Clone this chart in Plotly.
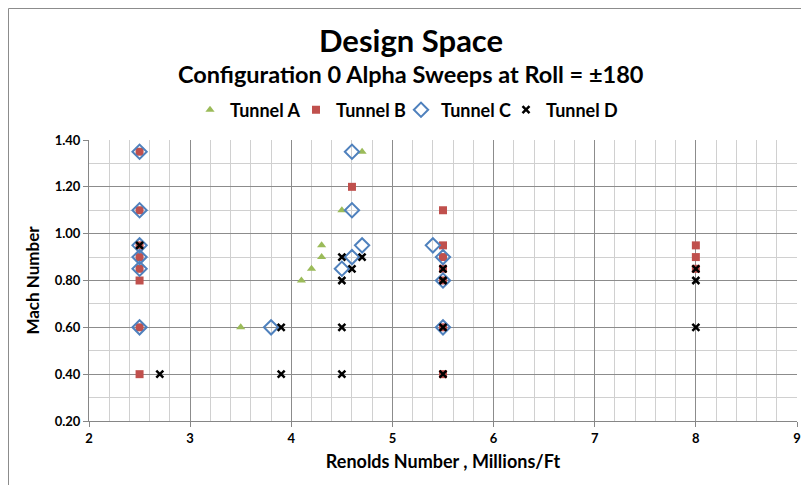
import plotly.graph_objects as go

# Tunnel A
a_x = [3.5, 4.1, 4.2, 4.3, 4.3, 4.5, 4.7]
a_y = [0.60, 0.80, 0.85, 0.90, 0.95, 1.10, 1.35]
# Tunnel B
b_x = [2.5, 2.5, 2.5, 2.5, 2.5, 2.5, 2.5, 2.5, 4.6, 5.5, 5.5, 5.5, 5.5, 5.5, 5.5, 5.5, 8.0, 8.0, 8.0]
b_y = [1.35, 1.10, 0.95, 0.90, 0.85, 0.80, 0.60, 0.40, 1.20, 1.10, 0.95, 0.90, 0.85, 0.80, 0.60, 0.40, 0.95, 0.90, 0.85]
# Tunnel C
c_x = [2.5, 2.5, 2.5, 2.5, 2.5, 2.5, 3.8, 4.5, 4.6, 4.7, 4.6, 4.6, 5.4, 5.5, 5.5, 5.5]
c_y = [1.35, 1.10, 0.95, 0.90, 0.85, 0.60, 0.60, 0.85, 0.90, 0.95, 1.10, 1.35, 0.95, 0.90, 0.80, 0.60]
# Tunnel D
d_x = [2.5, 2.7, 3.9, 3.9, 4.5, 4.5, 4.5, 4.5, 4.6, 4.7, 5.5, 5.5, 5.5, 5.5, 8.0, 8.0, 8.0]
d_y = [0.95, 0.40, 0.60, 0.40, 0.90, 0.80, 0.60, 0.40, 0.85, 0.90, 0.85, 0.80, 0.60, 0.40, 0.85, 0.80, 0.60]

title_text = "Design Space"
subtitle_text = "Configuration 0 Alpha Sweeps at Roll = ±180"
x_title = "Renolds Number , Millions/Ft"
y_title = "Mach Number"

FONT = "Lato"

fig = go.Figure()
fig.add_trace(go.Scatter(x=a_x, y=a_y, mode="markers", name="Tunnel A", legend="legend",
                         marker=dict(symbol="triangle-up", size=8, color="#9BBB59")))
fig.add_trace(go.Scatter(x=b_x, y=b_y, mode="markers", name="Tunnel B", legend="legend2",
                         marker=dict(symbol="square", size=8, color="#C0504D")))
fig.add_trace(go.Scatter(x=c_x, y=c_y, mode="markers", name="Tunnel C", legend="legend3",
                         marker=dict(symbol="diamond-open", size=11, color="#4F81BD",
                                     line=dict(width=2, color="#4F81BD"))))
fig.add_trace(go.Scatter(x=d_x, y=d_y, mode="markers", name="Tunnel D", legend="legend4",
                         marker=dict(symbol="x-thin", size=7, color="black",
                                     line=dict(width=2.5, color="black"))))

# page body has an 8px margin, so the figure starts at (8, 8) in the window
OFF = 8
W, H = 809 - OFF, 485 - OFF
L, R, T, B = 89 - OFF, 809 - 797, 140 - OFF, 485 - 421
pw, ph = W - L - R, H - T - B

def px_x(p):  # window pixel -> paper x
    return (p - OFF - L) / pw

def px_y(p):  # window pixel -> paper y
    return (H - B - (p - OFF)) / ph

axis_common = dict(showline=True, linecolor="#868686", linewidth=1,
                   gridcolor="#8c8c8c", gridwidth=1, ticks="outside",
                   ticklen=5, tickcolor="#868686", zeroline=False,
                   tickfont=dict(family=FONT, size=13, color="black", weight="bold"))

def legend_at(px):
    return dict(orientation="h", x=px_x(px), xanchor="left", y=px_y(110), yanchor="middle",
                font=dict(family=FONT, size=18, color="black", weight="bold"),
                itemwidth=30, bgcolor="rgba(0,0,0,0)")

fig.update_layout(
    width=W, height=H,
    margin=dict(l=L, r=R, t=T, b=B, autoexpand=False),
    paper_bgcolor="white", plot_bgcolor="white",
    font=dict(family=FONT, color="black"),
    xaxis=dict(range=[2, 9], dtick=1, tick0=2,
               minor=dict(dtick=0.2, showgrid=True, gridcolor="#d0d0d0", ticks=""),
               title=dict(text=x_title, font=dict(family=FONT, size=18, weight="bold"), standoff=10),
               **axis_common),
    yaxis=dict(range=[0.2, 1.4], dtick=0.2, tick0=0.2, tickformat=".2f",
               minor=dict(dtick=0.1, showgrid=True, gridcolor="#d0d0d0", ticks=""),
               title=dict(text=y_title, font=dict(family=FONT, size=17, weight="bold"), standoff=10),
               **axis_common),
    showlegend=True,
    legend=legend_at(190),
    legend2=legend_at(296),
    legend3=legend_at(401),
    legend4=legend_at(506),
    annotations=[
        dict(text=title_text, xref="paper", yref="paper", x=px_x(411), y=px_y(40),
             xanchor="center", yanchor="middle", showarrow=False,
             font=dict(family=FONT, size=31, color="black", weight="bold")),
        dict(text=subtitle_text, xref="paper", yref="paper", x=px_x(411), y=px_y(74),
             xanchor="center", yanchor="middle", showarrow=False,
             font=dict(family=FONT, size=23.5, color="black", weight="bold")),
    ],
    shapes=[
        dict(type="line", xref="paper", yref="paper", x0=px_x(8.5), x1=px_x(830),
             y0=px_y(8.5), y1=px_y(8.5), line=dict(color="#8c8c8c", width=1)),
        dict(type="line", xref="paper", yref="paper", x0=px_x(8.5), x1=px_x(8.5),
             y0=px_y(8.5), y1=px_y(500), line=dict(color="#8c8c8c", width=1)),
    ],
)

fig.write_html("out.html")
